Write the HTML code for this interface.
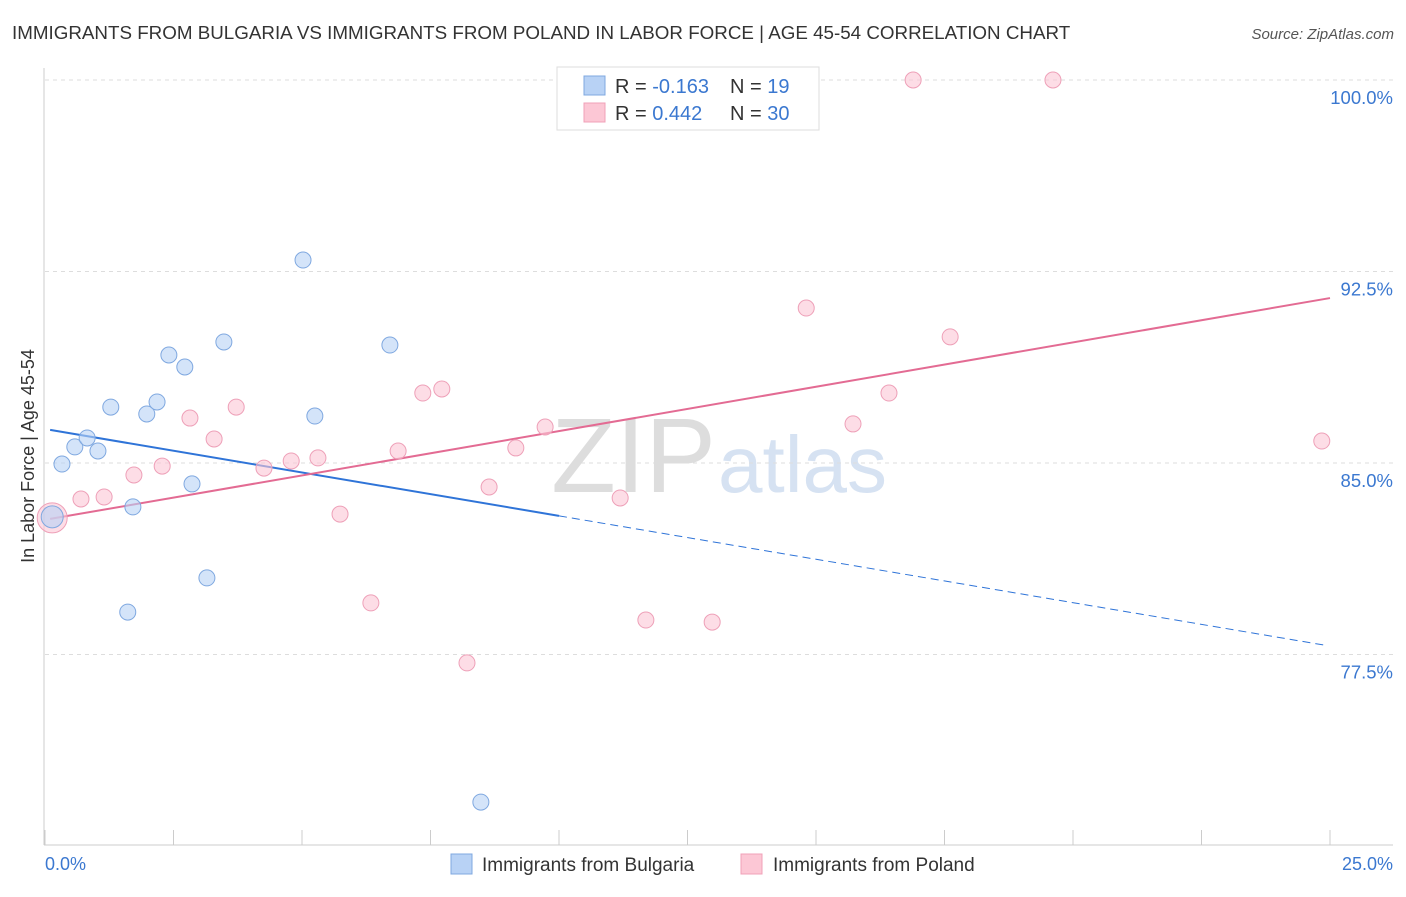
<!DOCTYPE html>
<html><head><meta charset="utf-8"><style>
body{margin:0;background:#fff;font-family:"Liberation Sans",sans-serif;}
svg text{font-family:"Liberation Sans",sans-serif;}
</style></head><body>
<svg id="chart" width="1406" height="892" xmlns="http://www.w3.org/2000/svg">
<text x="12" y="39" font-size="18.8" fill="#333">IMMIGRANTS FROM BULGARIA VS IMMIGRANTS FROM POLAND IN LABOR FORCE | AGE 45-54 CORRELATION CHART</text>
<text x="1394" y="39" font-size="15" fill="#555" text-anchor="end" font-style="italic">Source: ZipAtlas.com</text>
<text transform="translate(34,456) rotate(-90)" font-size="18" fill="#333" text-anchor="middle">In Labor Force | Age 45-54</text>
<text x="716" y="492" font-size="106" fill="#ddd" text-anchor="end" font-family="Liberation Serif">ZIP</text>
<text x="718" y="492" font-size="80" fill="#d6e2f2">atlas</text>
<g id="grid"></g><g id="axes"></g><g id="lines"></g><g id="points"></g>
<g>
<rect x="557" y="67" width="262" height="63" fill="#fff" stroke="#ddd"/>
<rect x="584" y="76" width="21" height="19" fill="#b8d2f5" stroke="#7fa8e0"/>
<rect x="584" y="103" width="21" height="19" fill="#fcc7d5" stroke="#f0a0b8"/>
<text x="615" y="93" font-size="20" fill="#333">R = <tspan fill="#3b78d0">-0.163</tspan></text>
<text x="730" y="93" font-size="20" fill="#333">N = <tspan fill="#3b78d0"> 19</tspan></text>
<text x="615" y="120" font-size="20" fill="#333">R = <tspan fill="#3b78d0"> 0.442</tspan></text>
<text x="730" y="120" font-size="20" fill="#333">N = <tspan fill="#3b78d0">30</tspan></text>
</g>
<g>
<rect x="451" y="854" width="21" height="20" fill="#b8d2f5" stroke="#7fa8e0"/>
<text x="482" y="871" font-size="19" fill="#333">Immigrants from Bulgaria</text>
<rect x="741" y="854" width="21" height="20" fill="#fcc7d5" stroke="#f0a0b8"/>
<text x="773" y="871" font-size="19" fill="#333">Immigrants from Poland</text>
</g>
</svg>
<script>
const yTicks=[100,92.5,85,77.5];
const yTickLabels=["100.0%","92.5%","85.0%","77.5%"];
const xTickLabels=["0.0%","25.0%"];
const bulgariaX=[0.14,0.33,0.58,0.82,1.03,1.28,1.61,1.71,1.98,2.18,2.41,2.72,2.86,3.15,3.48,5.02,5.25,6.71,8.48];
const bulgariaY=[82.89,84.96,85.63,85.98,85.47,87.19,79.16,83.28,86.92,87.39,89.23,88.76,84.18,80.50,89.74,92.95,86.84,89.62,71.72];
const polandX=[0.14,0.70,1.15,1.73,2.28,2.82,3.29,3.72,4.26,4.79,5.31,5.74,6.34,6.87,7.35,7.72,8.21,8.64,9.16,9.73,11.19,11.69,12.98,14.81,15.72,16.42,16.89,17.61,19.61,24.84];
const polandY=[82.85,83.59,83.67,84.53,84.88,86.76,85.94,87.19,84.80,85.08,85.20,83.00,79.52,85.47,87.74,87.90,77.17,84.06,85.59,86.41,83.63,78.85,78.77,91.07,86.53,87.74,100,89.94,100,85.86];
const bulgariaTrend=[86.33,77.83];
const polandTrend=[82.81,91.46];
const NS="http://www.w3.org/2000/svg";
const X=v=>45+v/25*1285;
const Y=v=>80+(100-v)/7.5*191.5;
function mk(t,a,p){const e=document.createElementNS(NS,t);for(const k in a)e.setAttribute(k,a[k]);document.getElementById(p).appendChild(e);return e;}
yTicks.forEach((t,i)=>{
 const g=mk('line',{x1:45,x2:1393,y1:Y(t),y2:Y(t),stroke:'#ddd','stroke-dasharray':'4,4'},'grid');
 
 
 const l=mk('text',{x:1393,y:Y(t)+24,'font-size':18.5,fill:'#3b78d0','text-anchor':'end'},'axes');
 l.textContent=yTickLabels[i];
 
 
});
const ax=mk('line',{x1:44,x2:44,y1:68,y2:845,stroke:'#ccc'},'axes');


const bx=mk('line',{x1:44,x2:1393,y1:845,y2:845,stroke:'#ccc'},'axes');


for(let i=0;i<=10;i++){const t=mk('line',{x1:X(i*2.5),x2:X(i*2.5),y1:830,y2:845,stroke:'#ccc'},'axes');
 
 }
[[0,'start',45],[25,'end',1393]].forEach((d,i)=>{const t=mk('text',{x:d[2],y:870,'font-size':18,fill:'#3b78d0','text-anchor':d[1]},'axes');t.textContent=xTickLabels[i];
 
 });
const bs=(bulgariaTrend[1]-bulgariaTrend[0])/25;
const bl=mk('line',{x1:X(0.1),y1:Y(bulgariaTrend[0]+bs*0.1),x2:X(10),y2:Y(bulgariaTrend[0]+bs*10),stroke:'#2f74d8','stroke-width':2},'lines');


const bd=mk('line',{x1:X(10),y1:Y(bulgariaTrend[0]+bs*10),x2:X(24.9),y2:Y(bulgariaTrend[0]+bs*24.9),stroke:'#2f74d8','stroke-width':1,'stroke-dasharray':'8,5'},'lines');


const pl=mk('line',{x1:X(0.1),y1:Y(polandTrend[0]),x2:X(25),y2:Y(polandTrend[1]),stroke:'#e36b93','stroke-width':2},'lines');


polandX.forEach((x,i)=>{const c=mk('circle',{cx:X(x),cy:Y(polandY[i]),r:i==0?15:8,fill:'#fcc7d5','fill-opacity':0.6,stroke:'#eea0b8'},'points');
 
 });
bulgariaX.forEach((x,i)=>{const c=mk('circle',{cx:X(x),cy:Y(bulgariaY[i]),r:i==0?11:8,fill:'#b8d2f5','fill-opacity':0.6,stroke:'#7fa8e0'},'points');
 
 });
</script>
</body></html>
